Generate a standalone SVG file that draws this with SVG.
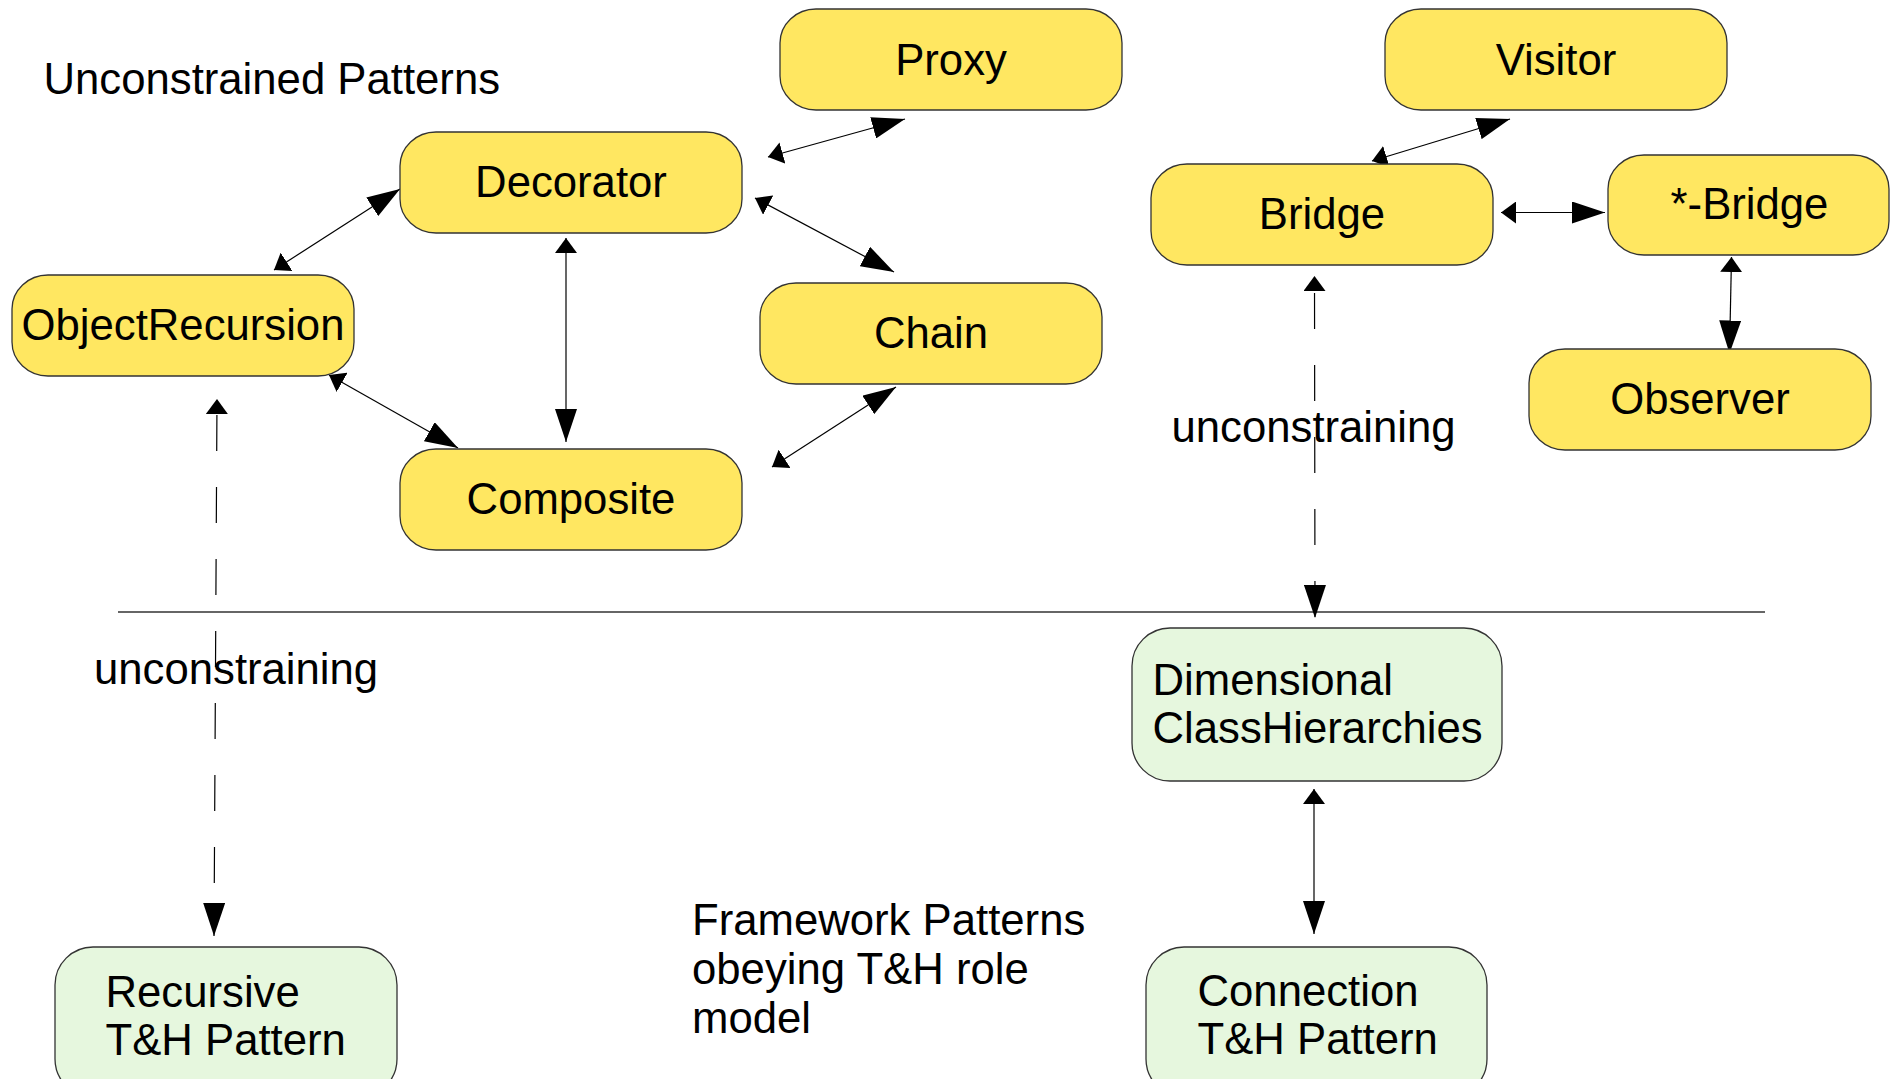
<svg xmlns="http://www.w3.org/2000/svg" width="1890" height="1079" viewBox="0 0 1890 1079">
  <style>
    text { font-family: "Liberation Sans", Arial, sans-serif; font-size: 43.7px; fill: #000; }
    .lbl { text-anchor: middle; }
    .pattern { fill: #FFE761; stroke: #333; stroke-width: 1.3; }
    .framework { fill: #E6F7DE; stroke: #333; stroke-width: 1.3; }
    .link { fill: none; stroke: #000; stroke-width: 1.2; marker-start: url(#headSmall); marker-end: url(#headBig); }
    .dashed { stroke-dasharray: 36 36; }
    .rule { stroke: #333; stroke-width: 1.5; }
  </style>
  <defs>
    <marker id="headSmall" viewBox="0 0 15 22" markerUnits="userSpaceOnUse" markerWidth="15" markerHeight="22" refX="15" refY="11" orient="auto-start-reverse">
      <path d="M0,0 L15,11 L0,22 Z" fill="#000"/>
    </marker>
    <marker id="headBig" viewBox="0 0 33 22" markerUnits="userSpaceOnUse" markerWidth="33" markerHeight="22" refX="33" refY="11" orient="auto">
      <path d="M0,0 L33,11 L0,22 Z" fill="#000"/>
    </marker>
  </defs>

  <rect width="1890" height="1079" fill="#fff"/>

  <!-- section captions -->
  <text x="43.5" y="94">Unconstrained Patterns</text>
  <text x="692" y="935">Framework Patterns</text>
  <text x="692" y="984">obeying T&amp;H role</text>
  <text x="692" y="1033">model</text>

  <!-- separator between pattern levels -->
  <line class="rule" x1="118" y1="612" x2="1765" y2="612"/>

  <!-- connectors -->
  <g id="connectors">
    <path class="link" d="M274,270 L400,189"/>
    <path class="link" d="M329,375 L458,448"/>
    <path class="link" d="M566,238 L566,442"/>
    <path class="link" d="M768,157 L905,119"/>
    <path class="link" d="M755,198 L894,272"/>
    <path class="link" d="M772,467 L896,387"/>
    <path class="link" d="M1372,161 L1510,119"/>
    <path class="link" d="M1501,212.5 L1605,212.5"/>
    <path class="link" d="M1731.5,257 L1729.5,353.5"/>
    <path class="link" d="M1314,789 L1314,934"/>
    <path class="link dashed" stroke-dashoffset="55" d="M1314.5,276 L1315,618"/>
    <path class="link dashed" stroke-dashoffset="56" d="M217,399 L214,936"/>
  </g>

  <!-- connector labels -->
  <text x="1171.5" y="442">unconstraining</text>
  <text x="94" y="684">unconstraining</text>

  <!-- unconstrained pattern nodes -->
  <g id="proxy">
    <rect class="pattern" x="780" y="9" width="342" height="101" rx="36" ry="34"/>
    <text class="lbl" x="951" y="74.5">Proxy</text>
  </g>
  <g id="visitor">
    <rect class="pattern" x="1385" y="9" width="342" height="101" rx="36" ry="34"/>
    <text class="lbl" x="1556" y="74.5">Visitor</text>
  </g>
  <g id="decorator">
    <rect class="pattern" x="400" y="132" width="342" height="101" rx="36" ry="34"/>
    <text class="lbl" x="571" y="197">Decorator</text>
  </g>
  <g id="bridge">
    <rect class="pattern" x="1151" y="164" width="342" height="101" rx="36" ry="34"/>
    <text class="lbl" x="1322" y="228.5">Bridge</text>
  </g>
  <g id="star-bridge">
    <rect class="pattern" x="1608" y="155" width="281" height="100" rx="36" ry="34"/>
    <text class="lbl" x="1749.5" y="219">*-Bridge</text>
  </g>
  <g id="object-recursion">
    <rect class="pattern" x="12" y="275" width="342" height="101" rx="36" ry="34"/>
    <text class="lbl" x="183" y="340">ObjectRecursion</text>
  </g>
  <g id="chain">
    <rect class="pattern" x="760" y="283" width="342" height="101" rx="36" ry="34"/>
    <text class="lbl" x="931" y="348">Chain</text>
  </g>
  <g id="observer">
    <rect class="pattern" x="1529" y="349" width="342" height="101" rx="36" ry="34"/>
    <text class="lbl" x="1700" y="414">Observer</text>
  </g>
  <g id="composite">
    <rect class="pattern" x="400" y="449" width="342" height="101" rx="36" ry="34"/>
    <text class="lbl" x="571" y="514">Composite</text>
  </g>

  <!-- framework pattern nodes -->
  <g id="dimensional-class-hierarchies">
    <rect class="framework" x="1132" y="628" width="370" height="153" rx="38" ry="38"/>
    <text x="1152.5" y="695">Dimensional</text>
    <text x="1152.5" y="743">ClassHierarchies</text>
  </g>
  <g id="recursive-th-pattern">
    <rect class="framework" x="55" y="947" width="342" height="150" rx="38" ry="38"/>
    <text x="105.5" y="1007">Recursive</text>
    <text x="105.5" y="1055">T&amp;H Pattern</text>
  </g>
  <g id="connection-th-pattern">
    <rect class="framework" x="1146" y="947" width="341" height="150" rx="38" ry="38"/>
    <text x="1197.5" y="1006">Connection</text>
    <text x="1197.5" y="1054">T&amp;H Pattern</text>
  </g>
</svg>
